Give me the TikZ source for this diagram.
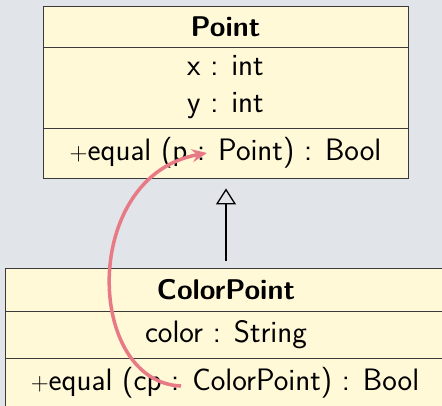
\documentclass[tikz,border=0pt]{standalone}
\usetikzlibrary{arrows.meta}
\definecolor{canvas}{HTML}{E1E4E8}
\definecolor{classfill}{HTML}{FFF9D8}
\definecolor{classline}{HTML}{3A3A3A}
\definecolor{linkred}{RGB}{232,122,134}
\tikzset{
  compart/.style={draw=classline, fill=classfill, line width=0.9pt, inner sep=0pt},
  label/.style={anchor=base, inner sep=0pt, font=\fontsize{31}{36}\selectfont\sffamily},
  title/.style={label, font=\fontsize{28.5}{34}\selectfont\sffamily\bfseries},
  inherit/.style={draw=black, line width=1.3pt, -{Triangle[open, length=16pt, width=20pt, line width=1.3pt]}},
  selfref/.style={draw=linkred, line width=3.5pt, -{Stealth[length=15pt, width=13pt]}}
}
\begin{document}
\begin{tikzpicture}[x=1pt, y=-1pt]
  \useasboundingbox (0,0) rectangle (442,406);
  \fill[canvas] (0,0) rectangle (442,406);

  % class Point
  \node[compart, minimum width=365pt, minimum height=41pt] (ptTitle) at (225.5,26.5) {};
  \node[compart, minimum width=365pt, minimum height=81pt] (ptAttr) at (225.5,87.5) {};
  \node[compart, minimum width=365pt, minimum height=50pt] (ptOps) at (225.5,153) {};
  \node[title] (ptName) at (225.5,36.5) {Point};
  \node[label] (ptX) at (225.5,76) {x : int};
  \node[label] (ptY) at (225.5,113) {y : int};
  \node[label] (ptEq) at (225.5,161) {$+$equal (p : Point) : Bool};

  % class ColorPoint
  \node[compart, minimum width=444pt, minimum height=43pt] (cpTitle) at (227,289.5) {};
  \node[compart, minimum width=444pt, minimum height=47pt] (cpAttr) at (227,334.5) {};
  \node[compart, minimum width=444pt, minimum height=52pt] (cpOps) at (227,384) {};
  \node[title] (cpName) at (226,300) {ColorPoint};
  \node[label] (cpColor) at (226,342) {color : String};
  \node[label] (cpEq) at (225,390) {$+$equal (cp : ColorPoint) : Bool};

  % generalisation
  \draw[inherit, shorten <=7pt, shorten >=10pt] (cpTitle.north -| 226,0) -- (ptOps.south -| 226,0);

  % overriding method refers back to the inherited one
  \coordinate (cpArg) at (181,386);
  \coordinate (ptArg) at (207,153);
  \draw[selfref] (cpArg) .. controls (85,382) and (80,176) .. (ptArg);
\end{tikzpicture}
\end{document}
